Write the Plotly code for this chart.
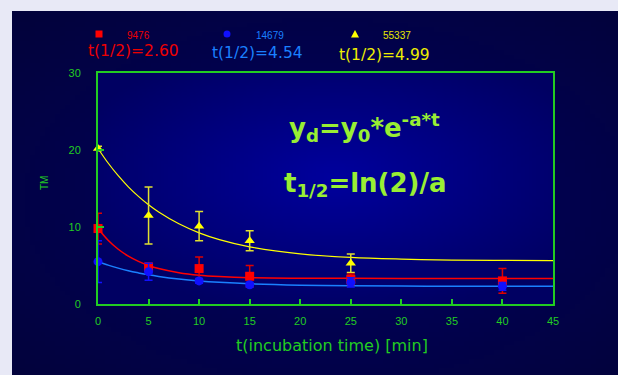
import math, zlib, struct, base64
import plotly.graph_objects as go

# ---------------- data ----------------
t_points = [0, 5, 10, 15, 25, 40]
red_y = [9.8, 4.8, 4.6, 3.6, 3.2, 3.0]
red_err = [2.0, 0.5, 1.5, 1.4, 0.7, 1.6]
blue_y = [5.5, 4.2, 3.0, 2.5, 2.8, 2.3]
blue_err = [2.7, 1.1, 0.3, 0.3, 0.6, 0.5]
yellow_t = [0, 5, 10, 15, 25]
yellow_y = [20.2, 11.5, 10.1, 8.2, 5.3]
yellow_err = [0.3, 3.7, 1.9, 1.3, 1.2]

fit_t = [0, 1, 2, 3, 4, 5, 6, 8, 10, 12, 15, 20, 25, 30, 35, 40, 45]
red_fit = [9.80, 8.28, 7.11, 6.22, 5.54, 5.01, 4.61, 4.07, 3.75, 3.57, 3.42, 3.35, 3.33, 3.32, 3.32, 3.31, 3.31]
blue_fit = [5.50, 5.05, 4.66, 4.32, 4.04, 3.79, 3.58, 3.24, 2.99, 2.81, 2.62, 2.45, 2.37, 2.33, 2.31, 2.30, 2.30]
yellow_fit = [20.2, 18.31, 16.66, 15.22, 13.98, 12.89, 11.95, 10.41, 9.24, 8.36, 7.42, 6.51, 6.05, 5.83, 5.71, 5.66, 5.63]

series_names = ["9476", "14679", "55337"]
half_lives = ["t(1/2)=2.60", "t(1/2)=4.54", "t(1/2)=4.99"]
x_ticks = [0, 5, 10, 15, 20, 25, 30, 35, 40, 45]
y_ticks = [0, 10, 20, 30]

GREEN = "#22cc22"
RED = "#ff0000"
BLUE_M = "#1010ff"
BLUE_L = "#1a80ff"
YEL = "#ffff00"


# ------------- gradient backgrounds (PNG data URIs) -------------
def make_png(w, h, func):
    raw = bytearray()
    for j in range(h):
        raw.append(0)
        for i in range(w):
            r, g, b = func(i / (w - 1), j / (h - 1))
            raw += bytes((int(r), int(g), int(b)))

    def chunk(tag, data):
        c = struct.pack(">I", len(data)) + tag + data
        return c + struct.pack(">I", zlib.crc32(tag + data) & 0xffffffff)

    png = (b"\x89PNG\r\n\x1a\n"
           + chunk(b"IHDR", struct.pack(">IIBBBBB", w, h, 8, 2, 0, 0, 0))
           + chunk(b"IDAT", zlib.compress(bytes(raw), 9))
           + chunk(b"IEND", b""))
    return "data:image/png;base64," + base64.b64encode(png).decode()


def mix(c0, c1, d):
    d = max(0.0, min(1.0, d))
    return tuple(c0[k] * (1 - d) + c1[k] * d for k in range(3))


def panel_fn(u, v):
    d = math.hypot((u - 0.52) / 0.75, (v - 0.52) / 0.75)
    return mix((0, 0, 100), (3, 3, 58), d)


def plot_fn(u, v):
    d = math.hypot((u - 0.52) / 0.62, (v - 0.45) / 0.62)
    return mix((0, 0, 158), (0, 0, 98), d)


panel_img = make_png(120, 80, panel_fn)
plot_img = make_png(120, 80, plot_fn)

# plot area in pixels: x 98..553, y 73..304
L, R, T, B = 98, 553, 73, 304
W, H = R - L, B - T


def px(x):
    return (x - L) / W


def py(y):
    return (B - y) / H


fig = go.Figure()

# fitted curves
fig.add_trace(go.Scatter(x=fit_t, y=yellow_fit, mode="lines", line=dict(color=YEL, width=1.2, shape="spline"),
                         showlegend=False, hoverinfo="skip"))
fig.add_trace(go.Scatter(x=fit_t, y=blue_fit, mode="lines", line=dict(color=BLUE_L, width=1.5, shape="spline"),
                         showlegend=False, hoverinfo="skip"))
fig.add_trace(go.Scatter(x=fit_t, y=red_fit, mode="lines", line=dict(color=RED, width=1.5, shape="spline"),
                         showlegend=False, hoverinfo="skip"))

# data points
fig.add_trace(go.Scatter(x=yellow_t, y=yellow_y, mode="markers", name=series_names[2],
                         marker=dict(symbol="triangle-up", size=9, color=YEL),
                         error_y=dict(type="data", array=yellow_err, color="#e0e030", thickness=1.5, width=4),
                         cliponaxis=False, showlegend=False))
fig.add_trace(go.Scatter(x=t_points, y=red_y, mode="markers", name=series_names[0],
                         marker=dict(symbol="square", size=9, color=RED),
                         error_y=dict(type="data", array=red_err, color="#dd0000", thickness=1.5, width=4),
                         cliponaxis=False, showlegend=False))
fig.add_trace(go.Scatter(x=t_points, y=blue_y, mode="markers", name=series_names[1],
                         marker=dict(symbol="circle", size=9, color=BLUE_M),
                         error_y=dict(type="data", array=blue_err, color=BLUE_M, thickness=1.5, width=4),
                         cliponaxis=False, showlegend=False))

# legend-like header (markers as shapes)
shapes = [
    dict(type="rect", xref="paper", yref="paper", xsizemode="pixel", ysizemode="pixel",
         xanchor=px(99), yanchor=py(34), x0=-3.5, x1=3.5, y0=-3.5, y1=3.5,
         fillcolor=RED, line=dict(width=0)),
    dict(type="circle", xref="paper", yref="paper", xsizemode="pixel", ysizemode="pixel",
         xanchor=px(227), yanchor=py(34), x0=-3.5, x1=3.5, y0=-3.5, y1=3.5,
         fillcolor=BLUE_M, line=dict(width=0)),
    dict(type="path", xref="paper", yref="paper", xsizemode="pixel", ysizemode="pixel",
         xanchor=px(355), yanchor=py(34), path="M-4,-3.5 L4,-3.5 L0,4 Z",
         fillcolor=YEL, line=dict(width=0)),
]

annotations = []
small_x = [138, 270, 397]
big_x = [133, 257, 384]
big_y = [51, 53, 55]
cols_small = ["#ee0000", BLUE_L, "#e8e800"]
cols_big = ["#ee0000", BLUE_L, "#eeee00"]
for k in range(3):
    annotations.append(dict(text=series_names[k], x=px(small_x[k]), y=py(36), xref="paper", yref="paper",
                            showarrow=False, xanchor="center", yanchor="middle",
                            font=dict(family="Liberation Sans", size=10, color=cols_small[k])))
    annotations.append(dict(text=half_lives[k], x=px(big_x[k]), y=py(big_y[k]), xref="paper", yref="paper",
                            showarrow=False, xanchor="center", yanchor="middle",
                            font=dict(family="DejaVu Sans", size=15.5, color=cols_big[k])))

# formulas
FCOL = "#99ee33"
annotations.append(dict(text="<b>y<sub>d</sub>=y<sub>0</sub>*e<sup>-a*t</sup></b>", x=px(364), y=py(127),
                        xref="paper", yref="paper", showarrow=False, xanchor="center", yanchor="middle",
                        font=dict(family="DejaVu Sans", size=26, color=FCOL)))
annotations.append(dict(text="<b>t<sub>1/2</sub>=ln(2)/a</b>", x=px(365), y=py(184),
                        xref="paper", yref="paper", showarrow=False, xanchor="center", yanchor="middle",
                        font=dict(family="DejaVu Sans", size=26, color=FCOL)))

# axis titles
annotations.append(dict(text="t(incubation time) [min]", x=px(332), y=py(345), xref="paper", yref="paper",
                        showarrow=False, xanchor="center", yanchor="middle",
                        font=dict(family="DejaVu Sans", size=16, color=GREEN)))
annotations.append(dict(text="TM", x=px(44), y=py(183), xref="paper", yref="paper", textangle=-90,
                        showarrow=False, xanchor="center", yanchor="middle",
                        font=dict(family="Liberation Sans", size=10, color=GREEN)))

images = [
    dict(source=panel_img, xref="paper", yref="paper", x=px(12), y=py(11),
         sizex=(618 - 12) / W, sizey=(375 - 11) / H, xanchor="left", yanchor="top",
         sizing="stretch", layer="below"),
    dict(source=plot_img, xref="paper", yref="paper", x=0, y=1, sizex=1, sizey=1,
         xanchor="left", yanchor="top", sizing="stretch", layer="below"),
]

fig.update_layout(
    width=618, height=375,
    margin=dict(l=L, r=618 - R, t=T, b=375 - B, pad=0),
    paper_bgcolor="#e8e9f6",
    plot_bgcolor="rgba(0,0,0,0)",
    shapes=shapes, annotations=annotations, images=images,
    showlegend=False,
)
fig.update_xaxes(range=[0, 45], tickvals=x_ticks, ticktext=[str(v) for v in x_ticks],
                 ticks="inside", ticklen=5, tickwidth=1.5, tickcolor=GREEN,
                 showline=True, linecolor=GREEN, linewidth=2, mirror=True,
                 showgrid=False, zeroline=False, ticklabelstandoff=6,
                 tickfont=dict(family="Liberation Sans", size=11, color=GREEN))
fig.update_yaxes(range=[0, 30], tickvals=y_ticks, ticktext=[str(v) for v in y_ticks],
                 ticks="inside", ticklen=6, tickwidth=1.5, tickcolor=GREEN,
                 showline=True, linecolor=GREEN, linewidth=2, mirror=True,
                 showgrid=False, zeroline=False, ticklabelstandoff=13,
                 tickfont=dict(family="Liberation Sans", size=11, color=GREEN))

fig.write_html("out.html", config={"displayModeBar": False},
               post_script="document.body.style.margin='0';document.body.style.overflow='hidden';")
